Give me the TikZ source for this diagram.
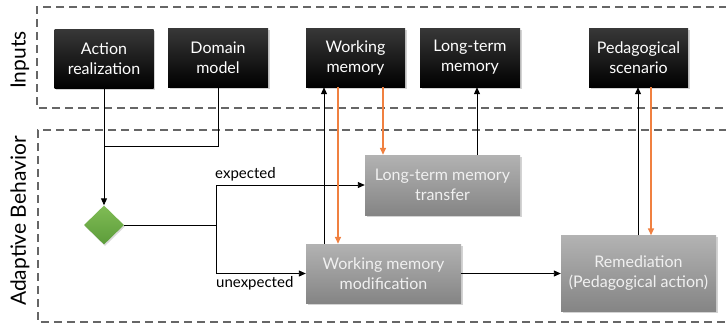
\documentclass[tikz,border=0pt]{standalone}
\usepackage{fontspec}
\setmainfont{Lato}
\usetikzlibrary{shapes.geometric,shadows,arrows.meta}
\definecolor{orng}{HTML}{F08040}
\definecolor{dashgray}{HTML}{666666}
\definecolor{dtop}{HTML}{80BC55}
\definecolor{dbot}{HTML}{5C9C3A}
\tikzset{
  inbox/.style={rectangle, minimum width=99pt, minimum height=59pt, top color=black!78, bottom color=black, draw=none,
    text=white, align=center, font=\fontsize{16}{20}\selectfont, inner sep=1pt,
    drop shadow={opacity=0.35, shadow xshift=1.5pt, shadow yshift=-1.5pt}},
  graybox/.style={rectangle, minimum width=155pt, top color=black!30, bottom color=black!48, draw=none,
    text=white!94!black, align=center, font=\fontsize{16}{20}\selectfont, inner sep=1pt,
    drop shadow={opacity=0.35, shadow xshift=1.5pt, shadow yshift=-1.5pt}},
  decision/.style={diamond, minimum width=40pt, minimum height=39pt, inner sep=0pt, top color=dtop, bottom color=dbot,
    drop shadow={opacity=0.3, shadow xshift=1pt, shadow yshift=-1.5pt}},
  region/.style={draw=dashgray, dash pattern=on 8pt off 5pt, line width=1.1pt},
  conn/.style={draw=black, line width=0.9pt},
  arr/.style={conn, -{Triangle[length=7pt,width=6pt]}},
  oarr/.style={draw=orng, line width=1.5pt, -{Triangle[length=7pt,width=6pt]}},
  lane/.style={font=\fontsize{21}{24}\selectfont, rotate=90, text=black},
  elabel/.style={font=\fontsize{15}{17}\selectfont, text=black, inner sep=0pt}
}
\begin{document}
\begin{tikzpicture}[x=1pt,y=-1pt]
\useasboundingbox (0,0) rectangle (726,324);
% regions
\draw[region] (740,7) -- (37,7) -- (37,108) -- (740,108);
\draw[region] (740,130) -- (38,130) -- (38,322) -- (740,322);
\node[lane] (lin) at (20,60) {Inputs};
\node[lane] (lab) at (20,221) {Adaptive Behavior};
% input boxes
\node[inbox] (AR) at (104,58.5) {Action\\realization};
\node[inbox, minimum width=100pt] (DM) at (218,57.5) {Domain\\model};
\node[inbox] (WM) at (355.5,57.5) {Working\\memory};
\node[inbox, minimum width=100pt] (LTM) at (470,57.5) {Long-term\\memory};
\node[inbox] (PS) at (638.5,57.5) {Pedagogical\\scenario};
% process boxes
\node[graybox, minimum height=60pt] (LTMT) at (442.5,185) {Long-term memory\\transfer};
\node[graybox, minimum height=59pt] (WMM) at (383.5,273.5) {Working memory\\modification};
\node[graybox, minimum height=76pt] (REM) at (638.5,273.5) {Remediation\\(Pedagogical action)};
\node[decision] (D) at (104,225) {};
% helper coordinates
\coordinate (J) at (104,146);
\coordinate (S) at (216,225);
\coordinate (xa) at (324,0);
\coordinate (xb) at (338,0);
\coordinate (xc) at (383,0);
\coordinate (xd) at (477,0);
\coordinate (xe) at (638,0);
\coordinate (xf) at (651,0);
% connectors
\draw[arr] (AR.south) -- (D.north);
\draw[conn] (DM.south) |- (J);
\draw[conn] (D.east) -- (S);
\draw[arr] (S) |- (LTMT.west);
\draw[arr] (S) |- (WMM.west);
\node[elabel, anchor=south west] (lexp) at (215,181) {expected};
\node[elabel, anchor=north west] (lunexp) at (216,276) {unexpected};
\draw[arr] (xa |- WMM.north) -- (xa |- WM.south);
\draw[oarr] (xb |- WM.south) -- (xb |- WMM.north);
\draw[oarr] (xc |- WM.south) -- (xc |- LTMT.north);
\draw[arr] (xd |- LTMT.north) -- (xd |- LTM.south);
\draw[arr] (WMM.east) -- (WMM.east -| REM.west);
\draw[arr] (xe |- REM.north) -- (xe |- PS.south);
\draw[oarr] (xf |- PS.south) -- (xf |- REM.north);
\end{tikzpicture}
\end{document}
